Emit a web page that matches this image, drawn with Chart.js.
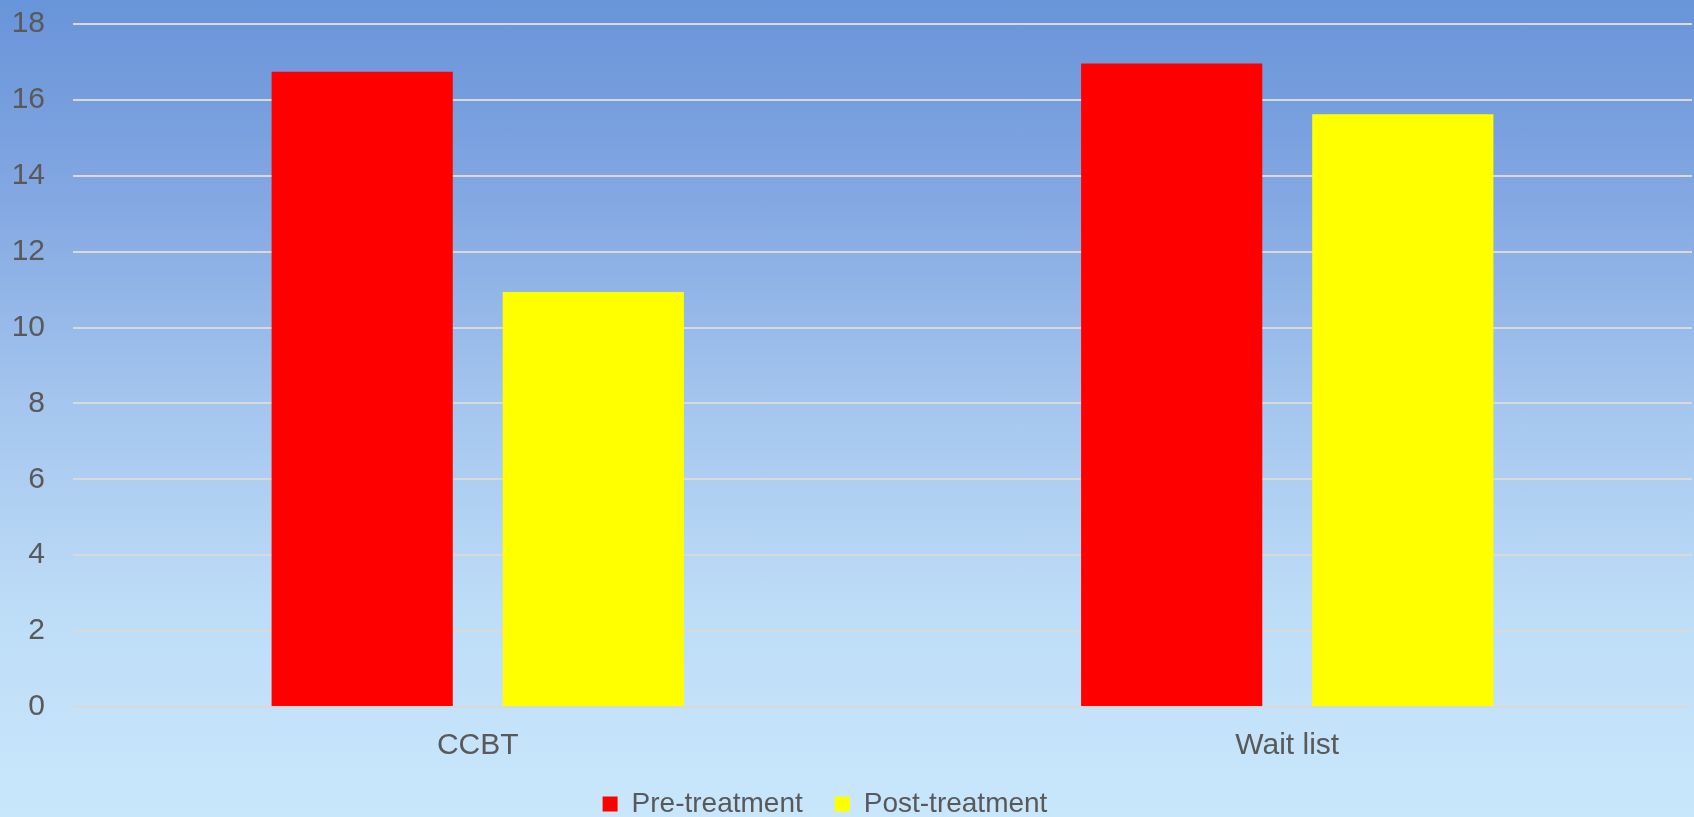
<!DOCTYPE html>
<html>
<head>
<meta charset="utf-8">
<script src="https://cdn.jsdelivr.net/npm/chart.js@4"></script>
<style>
    html, body { margin: 0; padding: 0; }
    body {
        width: 1694px; height: 817px; overflow: hidden;
        background: linear-gradient(to bottom, #6894d9 0%, #84a8e2 25%, #a4c5ee 49%, #bddcf7 74%, #c9e7fb 100%);
    }
    #wrap { position: relative; width: 1694px; height: 817px; }
</style>
</head>
<body>
<div id="wrap">
    <canvas id="scoreChart"></canvas>
</div>

<script type="text/JavaScript">

//------------------------------------------------------------------------------------------
// Data
//------------------------------------------------------------------------------------------

var groups = ["CCBT", "Wait list"];
var preTreatment = [16.74, 16.96];
var postTreatment = [10.94, 15.62];
var yTicks = [0, 2, 4, 6, 8, 10, 12, 14, 16, 18];

var FONT = "'Liberation Sans', Arial, sans-serif";

// nudge the legend a bit to the left of the canvas centre
var legendShift = {
    id: 'legendShift',
    afterLayout: function(chart) {
        if (chart.legend) {
            chart.legend.left -= 26;
            chart.legend.right -= 26;
        }
    }
};

//------------------------------------------------------------------------------------------
var ctx = document.getElementById("scoreChart").getContext('2d');
var myChart = new Chart(ctx, {
    type: 'bar',
    data: {
        labels: groups,
        datasets: [
            {
                label: "Pre-treatment",
                data: preTreatment,
                backgroundColor: "#ff0000"
            },
            {
                label: "Post-treatment",
                data: postTreatment,
                backgroundColor: "#ffff00"
            }
        ]
    },
    options: {
        responsive: true,
        maintainAspectRatio: false,
        animation: false,
        categoryPercentage: 0.571,
        barPercentage: 0.784,
        layout: {
            padding: { left: 10, right: 2, top: 0, bottom: -11 }
        },
        scales: {
            x: {
                grid: { display: false },
                border: { display: false },
                afterFit: function(axis) { axis.height -= 19; },
                ticks: {
                    color: "#595959",
                    padding: 13,
                    font: { size: 30, family: FONT }
                }
            },
            y: {
                min: 0,
                max: 18,
                afterBuildTicks: function(axis) {
                    axis.ticks = yTicks.map(function(v) { return { value: v }; });
                },
                afterFit: function(axis) {
                    axis.width = 63;
                    axis.paddingTop = 24;   // keep the label gap from pushing the plot down
                },
                grid: {
                    color: "#d9d9d9",
                    lineWidth: 2,
                    drawTicks: false
                },
                border: { display: false },
                ticks: {
                    color: "#595959",
                    padding: 28,
                    font: { size: 30, family: FONT }
                }
            }
        },
        plugins: {
            tooltip: { enabled: false },
            legend: {
                position: 'bottom',
                labels: {
                    color: "#595959",
                    boxWidth: 15,
                    boxHeight: 15,
                    padding: 32,
                    font: { size: 28, family: FONT }
                }
            }
        }
    },
    plugins: [legendShift]
}); //Chart()

</script>
</body>
</html>
